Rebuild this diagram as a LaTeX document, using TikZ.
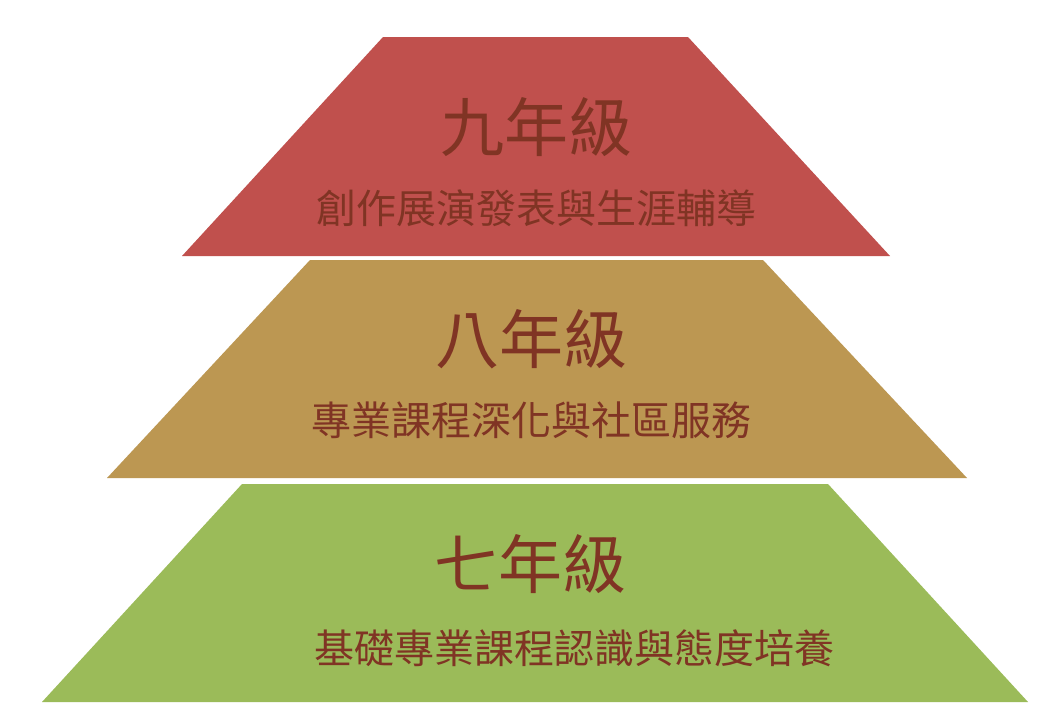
\documentclass[tikz,border=0pt]{standalone}
\usepackage{fontspec}
\newfontfamily\cjk{Noto Sans CJK TC}
\usetikzlibrary{positioning}
\definecolor{layerred}{RGB}{192,80,77}
\definecolor{layertan}{RGB}{188,151,82}
\definecolor{layergreen}{RGB}{155,187,89}
\definecolor{labelbrown}{RGB}{128,52,36}
\tikzset{
  grade/.style={text=labelbrown, inner sep=0pt, font=\cjk\fontsize{64}{64}\selectfont},
  topic/.style={text=labelbrown, inner sep=0pt, font=\cjk\fontsize{40}{40}\selectfont},
}

\begin{document}
\begin{tikzpicture}[x=1pt, y=-1pt, line join=round]

\useasboundingbox[fill=white] (0,0) rectangle (1062,720);

% layers
\fill[layerred] (383,37) -- (688,37) -- (890,256) -- (182,256) -- cycle;
\fill[layertan] (310,260) -- (763,260) -- (967,478) -- (107,478) -- cycle;
\fill[layergreen] (242,484) -- (828,484) -- (1028,702) -- (42,702) -- cycle;

% texts
\node (grade9) at (536,127) [grade] {九年級};
\node (topic9) [topic, below=33pt of grade9] {創作展演發表與生涯輔導};

\node (grade8) at (531,339) [grade] {八年級};
\node (topic8) [topic, below=33pt of grade8] {專業課程深化與社區服務};

\node (grade7) at (530,564) [grade] {七年級};
\node (topic7) at (574,648) [topic] {基礎專業課程認識與態度培養};

\end{tikzpicture}
\end{document}
